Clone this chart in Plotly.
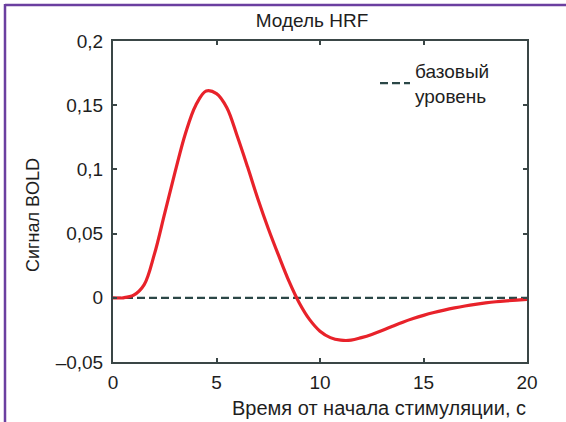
import plotly.graph_objects as go

# Hemodynamic response function (HRF), sampled every 0.5 s
time_s = [0, 0.5, 1.0, 1.5, 2.0, 2.5, 3.0, 3.5, 4.0, 4.5, 5.0, 5.5, 6.0, 6.5,
          7.0, 7.5, 8.0, 8.5, 9.0, 9.5, 10.0, 10.5, 11.0, 11.5, 12.0, 12.5,
          13.0, 13.5, 14.0, 14.5, 15.0, 15.5, 16.0, 16.5, 17.0, 17.5, 18.0,
          18.5, 19.0, 19.5, 20.0]
bold_signal = [0.0, 0.0, 0.002, 0.010, 0.034, 0.066, 0.098, 0.128, 0.150,
               0.161, 0.159, 0.148, 0.126, 0.102, 0.077, 0.054, 0.033, 0.013,
               -0.004, -0.017, -0.026, -0.031, -0.033, -0.033, -0.031, -0.0285,
               -0.0255, -0.0222, -0.0190, -0.0162, -0.0137, -0.0115, -0.0096,
               -0.0079, -0.0064, -0.0051, -0.0040, -0.0031, -0.0024, -0.0018,
               -0.0013]

baseline_x = [0, 20]
baseline_y = [0, 0]

x_ticks = [0, 5, 10, 15, 20]
y_ticks = [-0.05, 0, 0.05, 0.1, 0.15, 0.2]
y_tick_text = ["\u20130,05", "0", "0,05", "0,1", "0,15", "0,2"]

FONT = "Liberation Sans, Arial, sans-serif"
INK = "#1e1e1e"
FRAME = "#3a4646"

W, H = 566, 422
ML, MR, MT, MB = 113, 39, 41, 60
pw, ph = W - ML - MR, H - MT - MB


def px_to_paper_x(px):
    return (px - ML) / pw


def py_to_paper_y(py):
    return 1 - (py - MT) / ph


fig = go.Figure()

fig.add_trace(go.Scatter(
    x=baseline_x, y=baseline_y, mode="lines",
    name="базовый<br>уровень",
    line=dict(color="#2b4747", width=2.2, dash="8px,4px"),
))

fig.add_trace(go.Scatter(
    x=time_s, y=bold_signal, mode="lines", showlegend=False,
    line=dict(color="#e8222a", width=3.2, shape="spline", smoothing=1.0),
))

axis_common = dict(
    showline=True, linecolor=FRAME, linewidth=2, mirror="ticks",
    ticks="inside", ticklen=4, tickwidth=1.5, tickcolor=FRAME,
    showgrid=False, zeroline=False,
    tickfont=dict(family=FONT, size=19, color=INK),
)

fig.update_xaxes(range=[0, 20], tickvals=x_ticks, ticklabelstandoff=2,
                 **axis_common)
fig.update_yaxes(range=[-0.05, 0.2], tickvals=y_ticks, ticktext=y_tick_text,
                 ticklabelstandoff=4, **axis_common)

fig.update_layout(
    width=W, height=H,
    margin=dict(l=ML, r=MR, t=MT, b=MB),
    paper_bgcolor="white", plot_bgcolor="white",
    font=dict(family=FONT, color=INK),
    title=dict(text="Модель HRF", font=dict(family=FONT, size=19, color=INK),
               x=px_to_paper_x(312), xref="paper", xanchor="center",
               y=1 - 20 / H, yref="container", yanchor="middle"),
    legend=dict(x=px_to_paper_x(375), y=py_to_paper_y(52),
                xanchor="left", yanchor="top",
                bgcolor="rgba(0,0,0,0)", borderwidth=0,
                font=dict(family=FONT, size=19, color=INK),
                itemwidth=30, tracegroupgap=0),
    annotations=[
        dict(text="Сигнал BOLD", textangle=-90, showarrow=False,
             xref="paper", yref="paper",
             x=px_to_paper_x(33), y=py_to_paper_y(215),
             xanchor="center", yanchor="middle",
             font=dict(family=FONT, size=18, color=INK)),
        dict(text="Время от начала стимуляции, с", showarrow=False,
             xref="paper", yref="paper",
             x=px_to_paper_x(528), y=py_to_paper_y(408),
             xanchor="right", yanchor="middle",
             font=dict(family=FONT, size=20, color=INK)),
    ],
    shapes=[
        # purple page frame along the top and left edges
        dict(type="line", xref="paper", yref="paper",
             x0=px_to_paper_x(5), x1=px_to_paper_x(570),
             y0=py_to_paper_y(5), y1=py_to_paper_y(5),
             line=dict(color="#6b3fa0", width=2.5)),
        dict(type="line", xref="paper", yref="paper",
             x0=px_to_paper_x(5), x1=px_to_paper_x(5),
             y0=py_to_paper_y(4), y1=py_to_paper_y(430),
             line=dict(color="#6b3fa0", width=2.5)),
    ],
)

fig.write_html("out.html")
